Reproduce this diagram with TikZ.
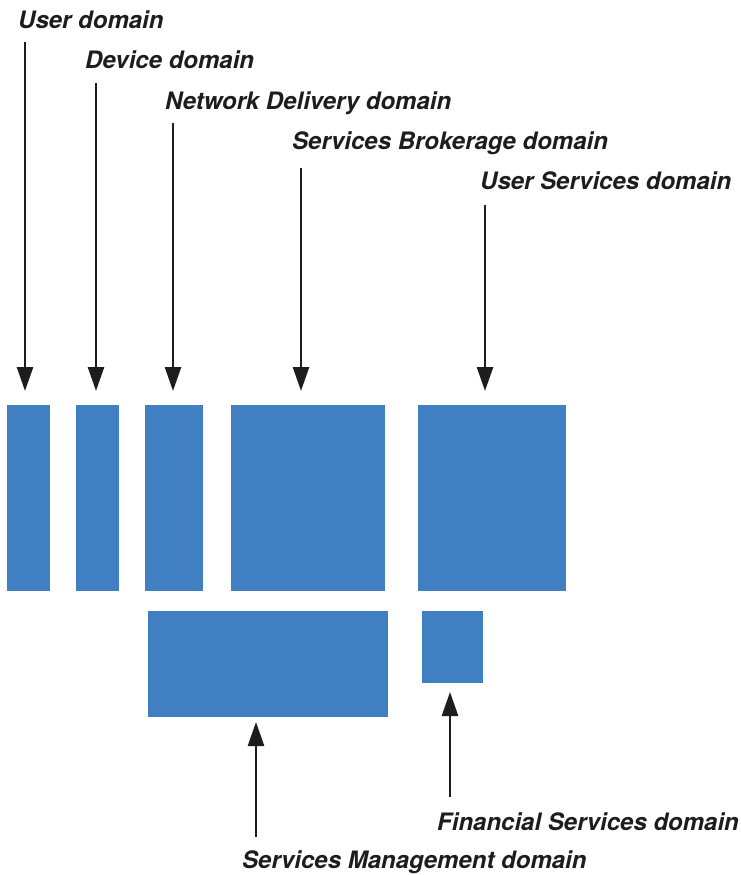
\documentclass[tikz,border=0pt]{standalone}
\usepackage{fontspec}
\setmainfont{TeX Gyre Heros}
\usetikzlibrary{arrows.meta}
\definecolor{domainblue}{RGB}{64,128,194}
\definecolor{inkdark}{RGB}{30,28,28}
\tikzset{
  dombox/.style={fill=domainblue, draw=none, inner sep=0pt, outer sep=0pt},
  domlabel/.style={anchor=base west, inner sep=0pt, text=inkdark,
    font=\fontsize{24}{28}\selectfont\bfseries\itshape},
  pointer/.style={draw=inkdark, line width=2.6pt,
    -{Triangle[width=16pt,length=24pt]}, shorten >=14pt},
}
\begin{document}
\begin{tikzpicture}[x=1pt,y=-1pt]
  \useasboundingbox (0,0) rectangle (740,875);

  % domain blocks
  \node[dombox, minimum width=43pt,  minimum height=186pt] (user)  at (28.5,498) {};
  \node[dombox, minimum width=43pt,  minimum height=186pt] (dev)   at (97.5,498) {};
  \node[dombox, minimum width=58pt,  minimum height=186pt] (net)   at (174,498) {};
  \node[dombox, minimum width=154pt, minimum height=186pt] (brok)  at (308,498) {};
  \node[dombox, minimum width=148pt, minimum height=186pt] (usrv)  at (492,498) {};
  \node[dombox, minimum width=240pt, minimum height=106pt] (mgmt)  at (268,664) {};
  \node[dombox, minimum width=61pt,  minimum height=72pt]  (fin)   at (452.5,647) {};

  % labels
  \node[domlabel] (luser) at (18,29)   {User domain};
  \node[domlabel] (ldev)  at (85,69)   {Device domain};
  \node[domlabel] (lnet)  at (165,109) {Network Delivery domain};
  \node[domlabel] (lbrok) at (292,149) {Services Brokerage domain};
  \node[domlabel] (lusrv) at (480,189) {User Services domain};
  \node[domlabel] (lfin)  at (437,830) {Financial Services domain};
  \node[domlabel] (lmgmt) at (242,868) {Services Management domain};

  % pointer tails
  \coordinate (tuser) at (25,42);
  \coordinate (tdev)  at (96,83);
  \coordinate (tnet)  at (173,123);
  \coordinate (tbrok) at (301,168);
  \coordinate (tusrv) at (485,205);
  \coordinate (tmgmt) at (256,837);
  \coordinate (tfin)  at (450,797);

  % pointers
  \draw[pointer] (tuser) -- (tuser |- user.north);
  \draw[pointer] (tdev)  -- (tdev  |- dev.north);
  \draw[pointer] (tnet)  -- (tnet  |- net.north);
  \draw[pointer] (tbrok) -- (tbrok |- brok.north);
  \draw[pointer] (tusrv) -- (tusrv |- usrv.north);
  \draw[pointer, shorten >=5pt] (tmgmt) -- (tmgmt |- mgmt.south);
  \draw[pointer, shorten >=9pt] (tfin)  -- (tfin  |- fin.south);
\end{tikzpicture}
\end{document}
